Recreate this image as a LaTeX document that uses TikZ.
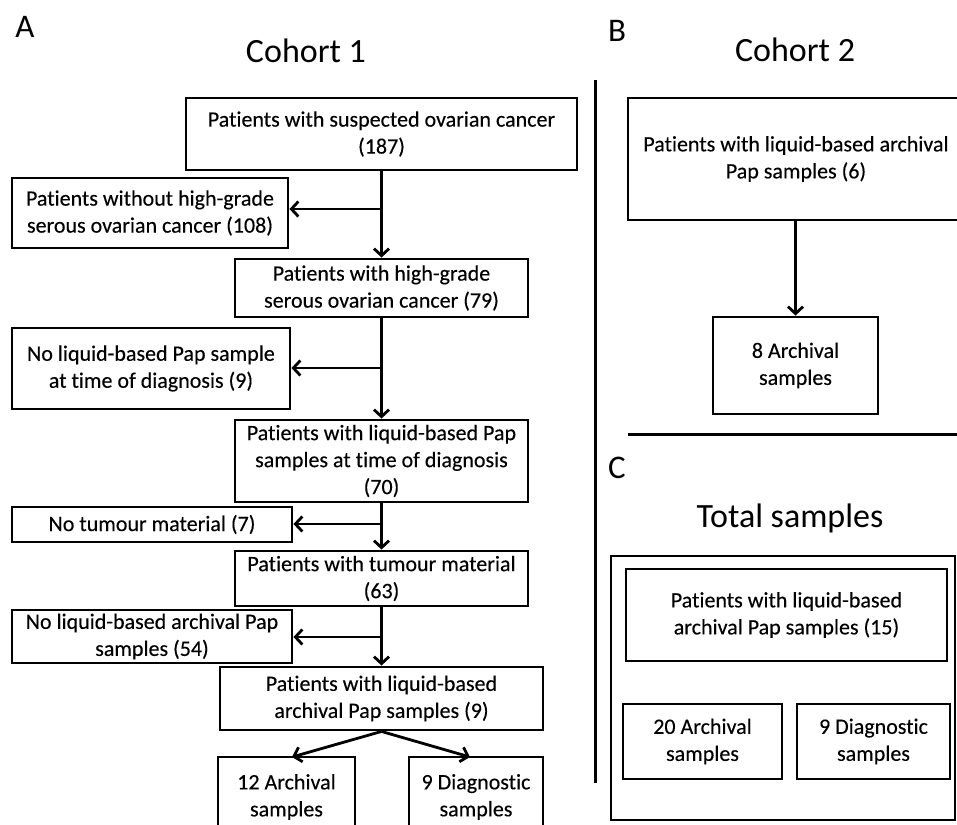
\documentclass[tikz,border=0pt]{standalone}
\usepackage{fontspec}
\setmainfont{Carlito}[Ligatures=NoCommon]
\newfontfamily\boxfont{Carlito}[FakeBold=0.25,Ligatures=NoCommon]
\usetikzlibrary{arrows.meta}
\begin{document}
\begin{tikzpicture}[x=1pt,y=-1pt,
  box/.style={draw, line width=2.9pt, align=center, inner sep=0pt,
    font=\boxfont\fontsize{22}{27}\selectfont},
  thinbox/.style={draw, line width=2.4pt, inner sep=0pt},
  arr/.style={line width=2.8pt, -{Straight Barb[length=7pt,width=15pt,line width=2.8pt]}},
  rule/.style={line width=3pt},
  title/.style={font=\fontsize{34}{40}\selectfont, inner sep=0pt},
  panel/.style={font=\fontsize{33}{40}\selectfont, inner sep=0pt}]
\clip (0,0) rectangle (957,824);
\fill[white] (0,0) rectangle (957,824);

% ---------- Panel A ----------
\node[panel] (lA) at (25,27) {A};
\node[title] (t1) at (306,51) {Cohort 1};

\node[box, minimum width=391pt, minimum height=72pt] (b1) at (381.5,134) {Patients with suspected ovarian cancer\\(187)};
\node[box, minimum width=276pt, minimum height=70pt] (b2) at (150,213) {Patients without high-grade\\serous ovarian cancer (108)};
\node[box, minimum width=293pt, minimum height=58pt] (b3) at (381.5,288) {Patients with high-grade\\serous ovarian cancer (79)};
\node[box, minimum width=278pt, minimum height=81pt] (b4) at (151,368.5) {No liquid-based Pap sample\\at time of diagnosis (9)};
\node[box, minimum width=293pt, minimum height=82pt] (b5) at (381.5,461) {Patients with liquid-based Pap\\samples at time of diagnosis\\(70)};
\node[box, minimum width=280pt, minimum height=35pt] (b6) at (152,524.5) {No tumour material (7)};
\node[box, minimum width=293pt, minimum height=55pt] (b7) at (381.5,578.5) {Patients with tumour material\\(63)};
\node[box, minimum width=280pt, minimum height=53pt] (b8) at (152,636.5) {No liquid-based archival Pap\\samples (54)};
\node[box, minimum width=323pt, minimum height=63pt] (b9) at (381.5,698.5) {Patients with liquid-based\\archival Pap samples (9)};
\node[box, minimum width=137pt, minimum height=80pt] (b10) at (286.5,797) {12 Archival\\samples};
\node[box, minimum width=134pt, minimum height=80pt] (b11) at (476,797) {9 Diagnostic\\samples};

\coordinate (c1) at (381.5,209);
\coordinate (c2) at (381.5,368);
\coordinate (c3) at (381.5,524);
\coordinate (c4) at (381.5,637);

\draw[arr] (b1.south) -- (b3.north);
\draw[arr] (c1) -- (c1 -| b2.east);
\draw[arr] (b3.south) -- (b5.north);
\draw[arr] (c2) -- (c2 -| b4.east);
\draw[arr] (b5.south) -- (b7.north);
\draw[arr] (c3) -- (c3 -| b6.east);
\draw[arr] (b7.south) -- (b9.north);
\draw[arr] (c4) -- (c4 -| b8.east);
\coordinate (t10) at (292,757);
\coordinate (t11) at (470,757);
\draw[arr] (b9.south) -- (t10);
\draw[arr] (b9.south) -- (t11);

% divider
\coordinate (d1) at (595,80);
\coordinate (d2) at (595,783);
\draw[rule] (d1) -- (d2);

% ---------- Panel B ----------
\node[panel] (lB) at (617,31) {B};
\node[title] (t2) at (795,50) {Cohort 2};
\node[box, minimum width=336pt, minimum height=122pt] (p1) at (796,159) {Patients with liquid-based archival\\Pap samples (6)};
\node[box, minimum width=165pt, minimum height=97pt] (p2) at (795.5,365.5) {8 Archival\\samples};
\draw[arr] (p1.south -| p2.north) -- (p2.north);

\coordinate (h1) at (628,434);
\coordinate (h2) at (960,434);
\draw[rule] (h1) -- (h2);

% ---------- Panel C ----------
\node[panel] (lC) at (617,468) {C};
\node[title] (t3) at (790,518) {Total samples};
\node[thinbox, minimum width=344pt, minimum height=264pt] (outer) at (783,688) {};
\node[box, minimum width=321pt, minimum height=92pt] (q1) at (786.5,615) {Patients with liquid-based\\archival Pap samples (15)};
\node[box, minimum width=159pt, minimum height=75pt] (q2) at (702.5,741.5) {20 Archival\\samples};
\node[box, minimum width=153pt, minimum height=75pt] (q3) at (873.5,741.5) {9 Diagnostic\\samples};
\end{tikzpicture}
\end{document}
